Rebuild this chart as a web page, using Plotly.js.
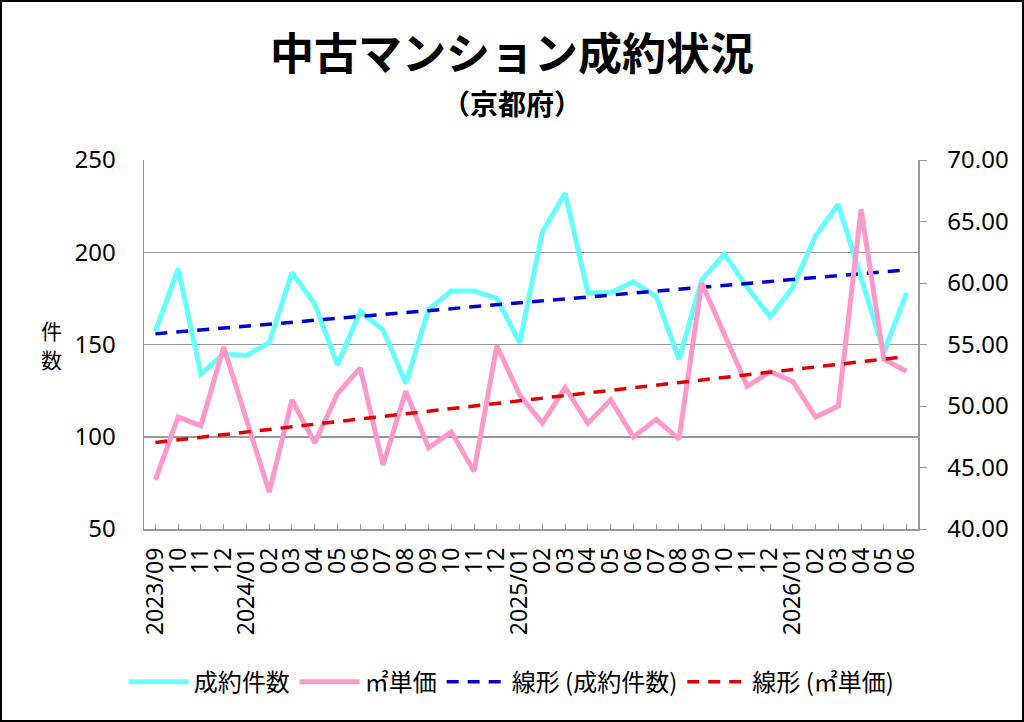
<!DOCTYPE html>
<html>
<head>
<meta charset="utf-8">
<script src="https://cdn.plot.ly/plotly-3.0.1.min.js"></script>
<style>
  html, body { margin: 0; padding: 0; background: #fff; }
  #chart { width: 1024px; height: 722px; border: 2px solid #000; box-sizing: border-box; }
</style>
</head>
<body>
<div id="chart"></div>
<script>
// months 2023/09 .. 2026/06
var months = [
    '2023/09', '2023/10', '2023/11', '2023/12',
    '2024/01', '2024/02', '2024/03', '2024/04', '2024/05', '2024/06',
    '2024/07', '2024/08', '2024/09', '2024/10', '2024/11', '2024/12',
    '2025/01', '2025/02', '2025/03', '2025/04', '2025/05', '2025/06',
    '2025/07', '2025/08', '2025/09', '2025/10', '2025/11', '2025/12',
    '2026/01', '2026/02', '2026/03', '2026/04', '2026/05', '2026/06'
]
var tickLabels = [
    '2023/09', '10', '11', '12',
    '2024/01', '02', '03', '04', '05', '06', '07', '08', '09', '10', '11', '12',
    '2025/01', '02', '03', '04', '05', '06', '07', '08', '09', '10', '11', '12',
    '2026/01', '02', '03', '04', '05', '06'
]
// 成約件数
var counts = [
    157, 191, 134, 145,
    144, 151, 189, 172, 139, 168, 158, 129, 169, 179, 179, 175,
    151, 211, 232, 178, 178, 184, 176, 142, 185, 199, 181, 165,
    181, 209, 226, 185, 146, 178
]
// ㎡単価 (万円)
var unitPrice = [
    44.0, 49.1, 48.4, 54.8,
    48.9, 43.0, 50.5, 47.0, 51.0, 53.1, 45.2, 51.2, 46.6, 47.9, 44.7, 54.9,
    50.9, 48.6, 51.5, 48.6, 50.5, 47.5, 48.9, 47.3, 60.0, 55.8, 51.6, 52.8,
    52.0, 49.1, 50.0, 66.0, 53.8, 52.8
]

// least squares trend, like the spreadsheet's linear trendline
const linearTrend = (values) => {
    let n = values.length
    let sx = 0, sy = 0, sxx = 0, sxy = 0
    values.forEach((v, i) => {
        sx += i; sy += v; sxx += i * i; sxy += i * v
    })
    let slope = (n * sxy - sx * sy) / (n * sxx - sx * sx)
    let icpt = (sy - slope * sx) / n
    return values.map((v, i) => icpt + slope * i)
}

const jp = '"Noto Sans CJK JP", "Noto Sans", sans-serif'
const num = '"Noto Sans", "Noto Sans CJK JP", sans-serif'

var data = [{
    x: months,
    y: counts,
    name: '成約件数',
    type: 'scatter',
    mode: 'lines',
    line: { color: '#66FFFF', width: 5 },
}, {
    x: months,
    y: unitPrice,
    name: '㎡単価',
    type: 'scatter',
    mode: 'lines',
    yaxis: 'y2',
    line: { color: '#FF99CC', width: 5 },
}, {
    x: months,
    y: linearTrend(counts),
    name: '線形 (成約件数)',
    type: 'scatter',
    mode: 'lines',
    line: { color: '#0000CC', width: 3.5, dash: '12px,9px' },
}, {
    x: months,
    y: linearTrend(unitPrice),
    name: '線形 (㎡単価)',
    type: 'scatter',
    mode: 'lines',
    yaxis: 'y2',
    line: { color: '#E00000', width: 3.5, dash: '12px,9px' },
}]

var layout = {
    width: 1020,
    height: 718,
    margin: { l: 142, r: 104, t: 158, b: 191, autoexpand: false },
    paper_bgcolor: '#fff',
    plot_bgcolor: '#fff',
    font: { family: num, size: 20, color: '#000' },
    title: {
        text: '<b>中古マンション成約状況</b>',
        font: { family: jp, size: 44, color: '#000' },
        x: 0.5, xref: 'container', xanchor: 'center',
        y: 0.927, yref: 'container', yanchor: 'middle',
    },
    xaxis: {
        type: 'category',
        range: [-0.5, months.length - 0.5],
        tickmode: 'array',
        tickvals: months,
        ticktext: tickLabels,
        tickangle: -90,
        ticks: 'inside',
        ticklen: 5,
        tickcolor: '#999',
        ticklabelstandoff: 8,
        showline: true,
        linecolor: '#999',
        linewidth: 1.5,
        showgrid: false,
        automargin: false,
        tickfont: { family: num, size: 23, color: '#000' },
    },
    yaxis: {
        range: [50, 250],
        dtick: 50,
        showline: true,
        linecolor: '#999',
        linewidth: 1.5,
        gridcolor: '#999',
        gridwidth: 1.5,
        zeroline: false,
        ticks: '',
        ticklabelstandoff: 22,
        automargin: false,
        tickfont: { family: num, size: 24, color: '#000' },
    },
    yaxis2: {
        overlaying: 'y',
        side: 'right',
        range: [40, 70],
        dtick: 5,
        tickformat: '.2f',
        showline: true,
        linecolor: '#999',
        linewidth: 1.5,
        showgrid: false,
        zeroline: false,
        ticks: 'outside',
        ticklen: 7,
        tickcolor: '#999',
        ticklabelstandoff: 16,
        automargin: false,
        tickfont: { family: num, size: 24, color: '#000' },
    },
    legend: {
        orientation: 'h',
        x: 0.475, xanchor: 'center',
        y: -0.415, yanchor: 'middle',
        font: { family: jp, size: 24, color: '#000' },
        itemwidth: 60,
    },
    annotations: [{
        text: '<b>（京都府）</b>',
        xref: 'paper', yref: 'paper',
        x: 0.475, y: 1.155,
        xanchor: 'center', yanchor: 'middle',
        showarrow: false,
        font: { family: jp, size: 28, color: '#000' },
    }, {
        text: '件',
        xref: 'paper', yref: 'paper',
        x: -0.119, y: 0.54,
        xanchor: 'center', yanchor: 'middle',
        showarrow: false, borderpad: 0,
        font: { family: jp, size: 21, color: '#000' },
    }, {
        text: '数',
        xref: 'paper', yref: 'paper',
        x: -0.119, y: 0.46,
        xanchor: 'center', yanchor: 'middle',
        showarrow: false, borderpad: 0,
        font: { family: jp, size: 21, color: '#000' },
    }],
    showlegend: true,
}

Plotly.newPlot('chart', data, layout, { displayModeBar: false, staticPlot: true })
</script>
</body>
</html>
